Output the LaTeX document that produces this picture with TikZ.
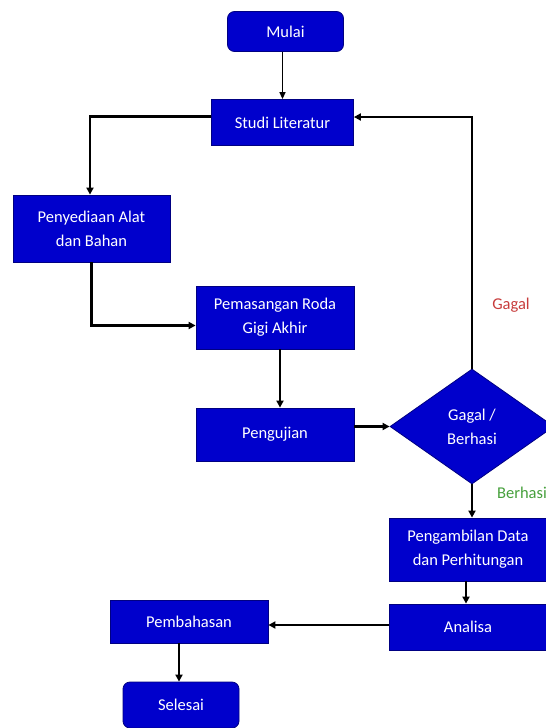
\documentclass[tikz,border=0pt]{standalone}
\usepackage{fontspec}
\setmainfont{Carlito}
\usetikzlibrary{shapes.geometric,arrows.meta,calc}
\definecolor{boxfill}{RGB}{0,0,204}
\definecolor{boxline}{RGB}{0,0,130}
\definecolor{gagalred}{RGB}{200,60,60}
\definecolor{berhasigreen}{RGB}{70,160,60}
\begin{document}
\begin{tikzpicture}[x=1pt,y=1pt,
  base/.style={draw=boxline,fill=boxfill,text=white,line width=0.8pt,align=center,inner sep=2pt,font=\fontsize{16.5}{24}\selectfont},
  procbox/.style={base,rectangle},
  termbox/.style={base,rectangle,rounded corners=7pt},
  decbox/.style={base,diamond,inner sep=0pt},
  conn/.style={line width=2.4pt,-{Triangle[length=7pt,width=7pt]}},
  thinconn/.style={line width=1.3pt,-{Triangle[length=7pt,width=6pt]}},
  lbl/.style={font=\fontsize{16.5}{20}\selectfont}
]
\useasboundingbox (0,0) rectangle (546,-728);
\fill[white] (0,0) rectangle (546,-728);

\node[termbox,minimum width=116pt,minimum height=40pt] (mulai) at (285.5,-31.5) {Mulai};
\node[procbox,minimum width=142pt,minimum height=46pt] (studi) at (282.5,-122.5) {Studi Literatur};
\node[procbox,minimum width=157pt,minimum height=67pt] (sedia) at (91.5,-228.5) {Penyediaan Alat\\dan Bahan};
\node[procbox,minimum width=158pt,minimum height=63pt] (pasang) at (275,-317.5) {Pemasangan Roda\\Gigi Akhir};
\node[procbox,minimum width=158pt,minimum height=53pt] (uji) at (275,-434.5) {Pengujian};
\node[decbox,minimum width=164pt,minimum height=115pt] (cek) at (472,-426.5) {Gagal /\\Berhasi};
\node[procbox,minimum width=158pt,minimum height=63pt] (ambil) at (468,-549.5) {Pengambilan Data\\dan Perhitungan};
\node[procbox,minimum width=158pt,minimum height=46pt] (analisa) at (468,-627) {Analisa};
\node[procbox,minimum width=158pt,minimum height=43pt] (bahas) at (189,-621.5) {Pembahasan};
\node[termbox,minimum width=116pt,minimum height=46pt] (selesai) at (181,-705) {Selesai};

\node[lbl,text=gagalred] (lgagal) at (511,-305) {Gagal};
\node[lbl,text=berhasigreen] (lberhasi) at (522,-493) {Berhasi};

\draw[thinconn] ([xshift=-3pt]mulai.south) -- ([xshift=-3pt]mulai.south |- studi.north);
\draw[conn] ([yshift=6pt]studi.west) -| ([xshift=-1.5pt]sedia.north);
\draw[conn] (sedia.south) |- ([yshift=-8pt]pasang.west);
\draw[conn] ([xshift=5pt]pasang.south) -- ([xshift=5pt]uji.north);
\draw[conn] (uji.east |- cek.west) -- (cek.west);
\draw[conn] (cek.north) |- ([yshift=5.5pt]studi.east);
\draw[conn] (cek.south) -- (cek.south |- ambil.north);
\draw[conn] ([xshift=-2pt]ambil.south) -- ([xshift=-2pt]analisa.north);
\draw[conn] ([yshift=2pt]analisa.west) -- ([yshift=2pt]analisa.west -| bahas.east);
\draw[conn] ([xshift=-10pt]bahas.south) -- ([xshift=-2pt]selesai.north);
\end{tikzpicture}
\end{document}
